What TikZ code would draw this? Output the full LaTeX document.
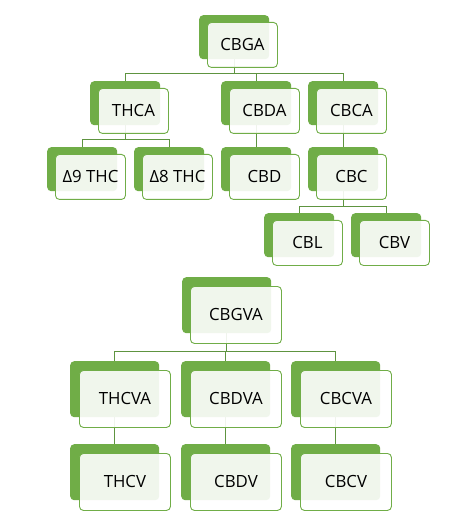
\documentclass[tikz,border=0pt]{standalone}
\usepackage{fontspec}
\setmainfont{Open Sans}
\pgfdeclarelayer{bg}
\pgfsetlayers{bg,main}
\definecolor{gr}{HTML}{70AD47}
\definecolor{ln}{HTML}{5E9440}
\tikzset{
  back/.style={fill=gr, draw=none, rounded corners=4pt, minimum width=70pt, minimum height=44pt, inner sep=0pt, anchor=north west},
  front/.style={fill=white, fill opacity=0.9, text opacity=1, draw=gr, line width=0.9pt, rounded corners=4pt, minimum width=70pt, minimum height=45pt, inner sep=0pt, anchor=north west, font=\fontsize{16.8}{19}\selectfont},
  bigb/.style={minimum width=89pt, minimum height=56pt},
  bigf/.style={minimum width=91pt, minimum height=57pt},
  conn/.style={draw=ln, line width=0.9pt}
}
\begin{document}
\begin{tikzpicture}[x=1pt,y=-1pt]
\useasboundingbox (0,0) rectangle (452,526);
% top tree back boxes
\node[back] (cbgaB) at (199,15) {};
\node[back] (thcaB) at (90,81) {};
\node[back] (cbdaB) at (221,81) {};
\node[back] (cbcaB) at (308,81) {};
\node[back] (d9B) at (47,147) {};
\node[back] (d8B) at (134,147) {};
\node[back] (cbdB) at (221,147) {};
\node[back] (cbcB) at (308,147) {};
\node[back] (cblB) at (264,213) {};
\node[back] (cbvB) at (351,213) {};
% top tree front boxes
\node[front] (cbga) at (207,22) {CBGA};
\node[front] (thca) at (98,88) {THCA};
\node[front] (cbda) at (229,88) {CBDA};
\node[front] (cbca) at (316,88) {CBCA};
\node[front] (d9) at (55,154) {Δ9 THC};
\node[front] (d8) at (142,154) {Δ8 THC};
\node[front] (cbd) at (229,154) {CBD};
\node[front] (cbc) at (316,154) {CBC};
\node[front] (cbl) at (272,220) {CBL};
\node[front] (cbv) at (359,220) {CBV};
% bottom tree
\node[back,bigb] (cbgvaB) at (182,277) {};
\node[back,bigb] (thcvaB) at (70,361) {};
\node[back,bigb] (cbdvaB) at (181,361) {};
\node[back,bigb] (cbcvaB) at (291,361) {};
\node[back,bigb] (thcvB) at (70,444) {};
\node[back,bigb] (cbdvB) at (181,444) {};
\node[back,bigb] (cbcvB) at (291,444) {};
\node[front,bigf] (cbgva) at (190,286) {CBGVA};
\node[front,bigf] (thcva) at (79,370) {THCVA};
\node[front,bigf] (cbdva) at (190,370) {CBDVA};
\node[front,bigf] (cbcva) at (300,370) {CBCVA};
\node[front,bigf] (thcv) at (79,453) {THCV};
\node[front,bigf] (cbdv) at (190,453) {CBDV};
\node[front,bigf] (cbcv) at (300,453) {CBCV};
\begin{pgfonlayer}{bg}
\fill[white] (0,0) rectangle (452,526);
\coordinate (busA) at (0,73);
\coordinate (busB) at (0,139);
\coordinate (busC) at (0,206);
\coordinate (busD) at (0,351);
\draw[conn] (cbgaB.south) -- (cbgaB.south |- busA);
\draw[conn] (thcaB.north) |- (cbcaB.north |- busA) -- (cbcaB.north);
\draw[conn] (cbdaB.north) -- (cbdaB.north |- busA);
\draw[conn] (thcaB.south) -- (thcaB.south |- busB);
\draw[conn] (d9B.north) |- (d8B.north |- busB) -- (d8B.north);
\draw[conn] (cbdaB.south) -- (cbdB.north);
\draw[conn] (cbcaB.south) -- (cbcB.north);
\draw[conn] (cbcB.south) -- (cbcB.south |- busC);
\draw[conn] (cblB.north) |- (cbvB.north |- busC) -- (cbvB.north);
\draw[conn] (cbgvaB.south) -- (cbgvaB.south |- busD);
\draw[conn] (thcvaB.north) |- (cbcvaB.north |- busD) -- (cbcvaB.north);
\draw[conn] (cbdvaB.north) -- (cbdvaB.north |- busD);
\draw[conn] (thcvaB.south) -- (thcvB.north);
\draw[conn] (cbdvaB.south) -- (cbdvB.north);
\draw[conn] (cbcvaB.south) -- (cbcvB.north);
\end{pgfonlayer}
\end{tikzpicture}
\end{document}
